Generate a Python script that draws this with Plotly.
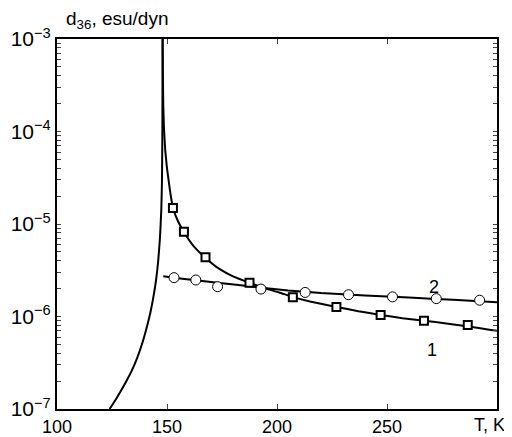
import plotly.graph_objects as go

# Curve 1, branch below Tc (T, K ; d36, esu/dyn)
c1_low_T = [123.9, 126.5, 129.0, 131.5, 134.0, 136.5, 139.0, 141.0, 142.5, 143.8, 145.0, 146.0, 146.8, 147.4, 147.7, 147.9, 148.0]
c1_low_d = [1.0e-7, 1.245e-7, 1.57e-7, 2.0e-7, 2.6e-7, 3.59e-7, 5.37e-7, 7.94e-7, 1.12e-6, 1.62e-6, 2.45e-6, 4.0e-6, 7.1e-6, 1.41e-5, 2.8e-5, 1.0e-4, 1.0e-3]

# Curve 1, branch above Tc
c1_high_T = [148.0, 148.1, 148.3, 148.6, 149.2, 149.9, 150.7, 151.6, 152.7, 155.0, 157.7, 162.0, 167.5, 174.0, 180.0,
             187.5, 195.0, 201.0, 207.0, 215.0, 227.0, 237.0, 247.0, 257.0, 267.0, 277.0, 287.0, 296.5, 300.0]
c1_high_d = [1.0e-3, 5.0e-4, 2.0e-4, 1.1e-4, 6.3e-5, 4.2e-5, 3.0e-5, 2.1e-5, 1.5e-5, 1.07e-5, 8.2e-6, 5.8e-6, 4.3e-6, 3.25e-6, 2.72e-6,
             2.32e-6, 2.0e-6, 1.82e-6, 1.63e-6, 1.45e-6, 1.27e-6, 1.14e-6, 1.04e-6, 0.96e-6, 0.90e-6, 0.84e-6, 0.78e-6, 0.72e-6, 0.70e-6]

# Curve 2
c2_T = [148.3, 155.0, 163.0, 175.0, 190.0, 205.0, 220.0, 240.0, 260.0, 280.0, 300.0]
c2_d = [2.72e-6, 2.59e-6, 2.46e-6, 2.29e-6, 2.09e-6, 1.91e-6, 1.79e-6, 1.69e-6, 1.60e-6, 1.52e-6, 1.43e-6]

# Measured points, series 1 (squares)
sq_T = [152.7, 157.7, 167.5, 187.5, 207.2, 227.0, 247.1, 266.8, 286.7]
sq_d = [1.49e-5, 8.26e-6, 4.37e-6, 2.32e-6, 1.61e-6, 1.27e-6, 1.04e-6, 0.90e-6, 0.81e-6]

# Measured points, series 2 (circles)
ci_T = [153.2, 163.1, 173.0, 192.7, 212.8, 232.5, 252.5, 272.4, 292.1]
ci_d = [2.63e-6, 2.48e-6, 2.10e-6, 1.98e-6, 1.82e-6, 1.72e-6, 1.63e-6, 1.56e-6, 1.50e-6]

x_ticks = [100, 150, 200, 250]
x_tick_text = ["100", "150", "200", "250"]
y_decade_exps = [-7, -6, -5, -4, -3]
y_minor_mults = [2, 3, 4, 5, 6, 7, 8, 9]

y_tickvals, y_ticktext = [], []
for e in y_decade_exps:
    y_tickvals.append(10.0 ** e)
    y_ticktext.append("10<sup>\u2212%d</sup>" % (-e))
    if e < y_decade_exps[-1]:
        for m in y_minor_mults:
            y_tickvals.append(m * 10.0 ** e)
            y_ticktext.append("")

FONT = "Liberation Sans, Arial, sans-serif"

fig = go.Figure()
low_style = dict(color="black", width=2, shape="spline", smoothing=0.5)
line_style = dict(color="black", width=2, shape="spline", smoothing=0.3)
fig.add_trace(go.Scatter(x=c1_low_T, y=c1_low_d, mode="lines", line=low_style, hoverinfo="skip"))
fig.add_trace(go.Scatter(x=c1_high_T, y=c1_high_d, mode="lines", line=line_style, hoverinfo="skip"))
fig.add_trace(go.Scatter(x=c2_T, y=c2_d, mode="lines", line=line_style, hoverinfo="skip"))
fig.add_trace(go.Scatter(x=sq_T, y=sq_d, mode="markers",
                         marker=dict(symbol="square", size=8, color="white", line=dict(color="black", width=2))))
fig.add_trace(go.Scatter(x=ci_T, y=ci_d, mode="markers",
                         marker=dict(symbol="circle", size=10, color="white", line=dict(color="black", width=1))))

fig.update_layout(
    width=504, height=429,
    margin=dict(l=49, r=15, t=31, b=28, autoexpand=False),
    paper_bgcolor="white", plot_bgcolor="white",
    showlegend=False,
    font=dict(family=FONT, size=18, color="black"),
    xaxis=dict(range=[100, 300], tickvals=x_ticks, ticktext=x_tick_text, automargin=False,
               ticks="inside", ticklen=5, tickwidth=1, showline=True, linewidth=2, linecolor="black",
               mirror="ticks", showgrid=False, zeroline=False, tickfont=dict(size=18)),
    yaxis=dict(type="log", range=[y_decade_exps[0], y_decade_exps[-1]], tickvals=y_tickvals, ticktext=y_ticktext,
               automargin=False, ticks="inside", ticklen=4, tickwidth=1, showline=True, linewidth=2,
               linecolor="black", mirror="ticks", showgrid=False, zeroline=False, tickfont=dict(size=21)),
    annotations=[
        dict(text="d<sub>36</sub>, esu/dyn", xref="paper", yref="paper", x=0.016, y=1.0, yshift=5,
             xanchor="left", yanchor="bottom", showarrow=False, font=dict(size=19)),
        dict(text="T, K", xref="paper", yref="paper", x=1.0, y=0, yshift=-4, xshift=10,
             xanchor="right", yanchor="top", showarrow=False, font=dict(size=18)),
        dict(text="1", x=270.5, y=-6.36, xref="x", yref="y", showarrow=False, font=dict(size=18)),
        dict(text="2", x=271.5, y=-5.68, xref="x", yref="y", showarrow=False, font=dict(size=18)),
    ],
)

fig.write_html("out.html")
